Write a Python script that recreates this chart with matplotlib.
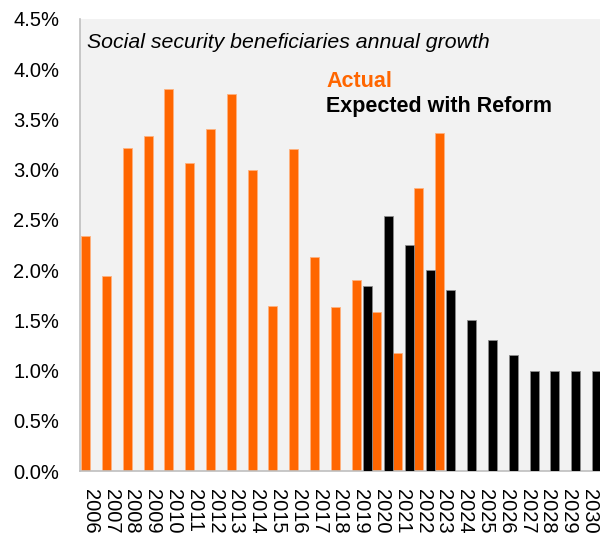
import numpy as np
import matplotlib.pyplot as plt
from matplotlib.ticker import FuncFormatter

plt.rcParams['font.family'] = ['Liberation Sans', 'DejaVu Sans']

years = list(range(2006, 2031))
actual_years = list(range(2006, 2024))
actual = [2.34, 1.94, 3.22, 3.34, 3.80, 3.07, 3.40, 3.75, 3.00, 1.64, 3.21,
          2.13, 1.63, 1.90, 1.58, 1.17, 2.82, 3.37]
reform_years = list(range(2019, 2031))
reform = [1.84, 2.54, 2.25, 2.00, 1.80, 1.50, 1.30, 1.15, 1.00, 1.00, 1.00, 1.00]

ORANGE = '#FF6600'

fig = plt.figure(figsize=(6.0, 5.35), dpi=100)
ax = fig.add_axes([0.1333, 0.1196, 0.8667, 0.8449])
ax.set_facecolor('#F2F2F2')

xa = np.array([years.index(y) for y in actual_years])
xr = np.array([years.index(y) for y in reform_years])
w = 0.435
ax.bar(xa - 0.225, actual, width=w, color=ORANGE, edgecolor='#FFB27F', linewidth=0.6, zorder=2)
ax.bar(xr + 0.33, reform, width=w, color='black', edgecolor='#8C8C8C', linewidth=0.6, zorder=3)

ax.set_xlim(-0.5, len(years) - 0.5)
ax.set_ylim(0, 4.5)
ax.set_yticks(np.arange(0, 4.51, 0.5))
ax.yaxis.set_major_formatter(FuncFormatter(lambda v, p: f'{v:.1f}%'))
ax.set_xticks(range(len(years)))
ax.set_xticklabels([str(y) for y in years], rotation=270, fontsize=14.5)
ax.tick_params(axis='y', labelsize=14.5, length=0, pad=15)
ax.tick_params(axis='x', length=0, pad=13)

for s in ['top', 'right']:
    ax.spines[s].set_visible(False)
for s in ['left', 'bottom']:
    ax.spines[s].set_color('#BFBFBF')
    ax.spines[s].set_linewidth(1.2)

ax.text(0.013, 0.947, 'Social security beneficiaries annual growth', transform=ax.transAxes,
        fontsize=15.3, fontstyle='italic', va='center', ha='left')
ax.text(0.474, 0.861, 'Actual', transform=ax.transAxes, fontsize=15.5,
        fontweight='bold', color=ORANGE, va='center', ha='left')
ax.text(0.474, 0.806, 'Expected with Reform', transform=ax.transAxes, fontsize=15.5,
        fontweight='bold', color='black', va='center', ha='left')

fig.savefig('out.png', dpi=100)
